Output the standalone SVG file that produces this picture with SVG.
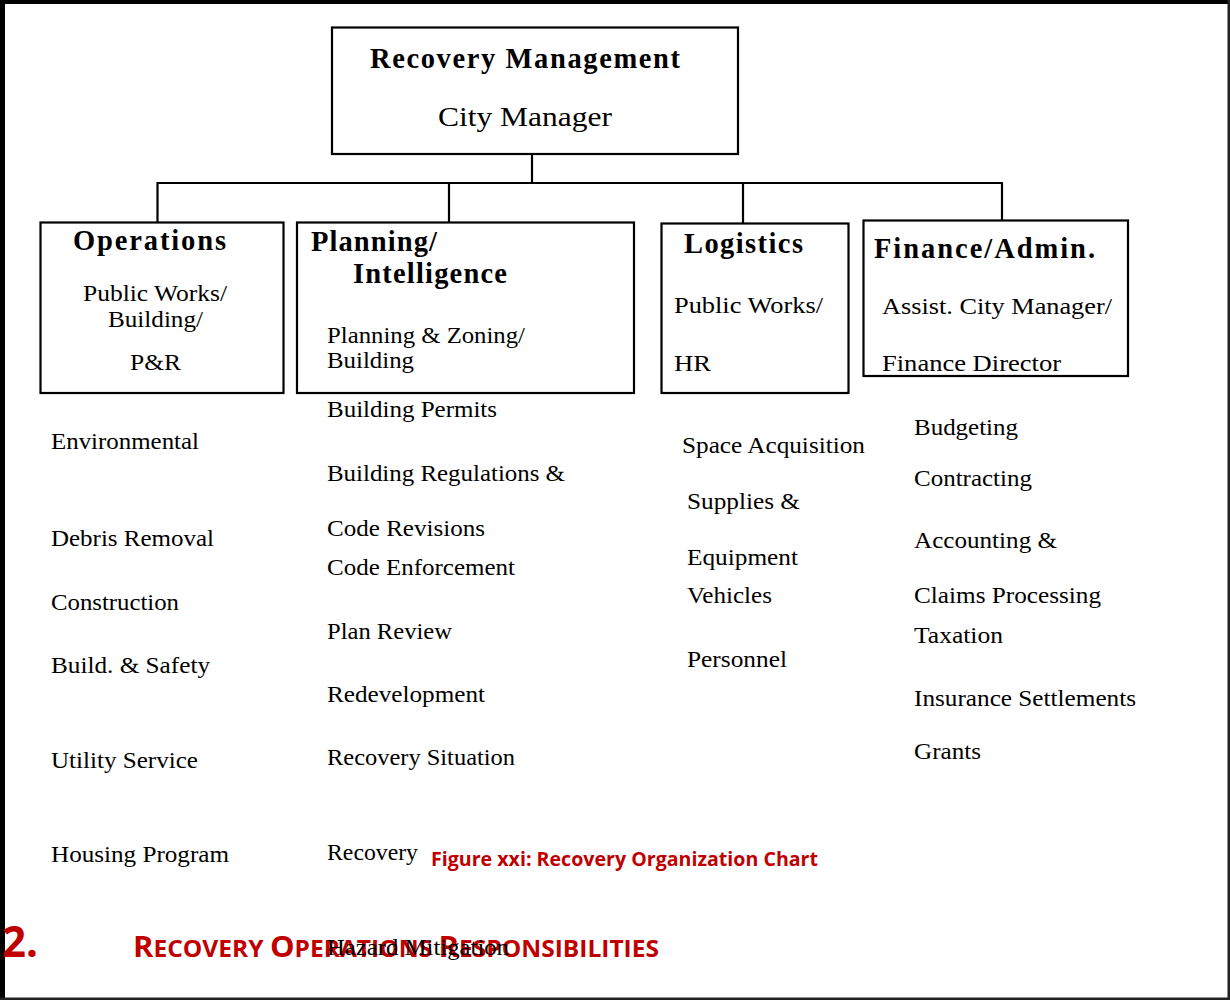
<svg xmlns="http://www.w3.org/2000/svg" width="1230" height="1000" viewBox="0 0 1230 1000">
<style>
.box{fill:#fff;stroke:#000;stroke-width:2.2}
.ln{stroke:#000;stroke-width:2.2;fill:none}
.t{font-family:"Liberation Serif","Times New Roman",serif;fill:#000}
.b{font-weight:bold;font-size:28.5px}
.s{font-size:24px}
.m{font-size:28px}
.red{font-family:"Open Sans","Liberation Sans",Arial,sans-serif;font-weight:bold;fill:#c00000}
</style>
<rect x="0" y="0" width="1230" height="1000" fill="#fff"/>
<g id="frame">
<rect x="0" y="0" width="1230" height="4" fill="#000"/>
<rect x="0" y="0" width="5" height="1000" fill="#000"/>
<rect x="1227.5" y="0" width="2.5" height="1000" fill="#222"/>
<rect x="0" y="997.5" width="1230" height="2.5" fill="#222"/>
</g>
<g id="connectors">
<line class="ln" x1="532" y1="154" x2="532" y2="183"/>
<polyline class="ln" points="157.5,222 157.5,183 1002,183 1002,220"/>
<line class="ln" x1="449" y1="183" x2="449" y2="222"/>
<line class="ln" x1="743" y1="183" x2="743" y2="223"/>
</g>
<g id="recovery-management">
<rect class="box" x="332" y="27.5" width="406" height="126.5"/>
<text class="t b" x="370" y="68" textLength="310" lengthAdjust="spacing">Recovery Management</text>
<text class="t m" x="438" y="126" textLength="174" lengthAdjust="spacingAndGlyphs">City Manager</text>
</g>
<g id="operations">
<rect class="box" x="40.5" y="222.5" width="243" height="170.5"/>
<text class="t b" x="73" y="250" textLength="153" lengthAdjust="spacing">Operations</text>
<text class="t s" x="83" y="301" textLength="144" lengthAdjust="spacingAndGlyphs">Public Works/</text>
<text class="t s" x="108" y="327" textLength="95" lengthAdjust="spacingAndGlyphs">Building/</text>
<text class="t s" x="130" y="370" textLength="51" lengthAdjust="spacingAndGlyphs">P&amp;R</text>
</g>
<g id="planning-intelligence">
<rect class="box" x="297" y="222.5" width="337" height="170.5"/>
<text class="t b" x="311" y="251" textLength="126" lengthAdjust="spacing">Planning/</text>
<text class="t b" x="353" y="283" textLength="154" lengthAdjust="spacing">Intelligence</text>
<text class="t s" x="327" y="343" textLength="198" lengthAdjust="spacingAndGlyphs">Planning &amp; Zoning/</text>
<text class="t s" x="327" y="368" textLength="87" lengthAdjust="spacingAndGlyphs">Building</text>
</g>
<g id="logistics">
<rect class="box" x="661.5" y="223.5" width="187" height="169.5"/>
<text class="t b" x="684" y="253" textLength="119" lengthAdjust="spacing">Logistics</text>
<text class="t s" x="674" y="313" textLength="149" lengthAdjust="spacingAndGlyphs">Public Works/</text>
<text class="t s" x="674" y="371" textLength="37" lengthAdjust="spacingAndGlyphs">HR</text>
</g>
<g id="finance-admin">
<rect class="box" x="863.5" y="220.5" width="264.5" height="155.5"/>
<text class="t b" x="874" y="258" textLength="221" lengthAdjust="spacing">Finance/Admin.</text>
<text class="t s" x="882" y="314" textLength="230" lengthAdjust="spacingAndGlyphs">Assist. City Manager/</text>
<text class="t s" x="882" y="371" textLength="179" lengthAdjust="spacingAndGlyphs">Finance Director</text>
</g>
<g id="caption">
<text class="red" x="431" y="866" font-size="20" textLength="387" lengthAdjust="spacingAndGlyphs">Figure xxi: Recovery Organization Chart</text>
<text class="red" x="2" y="957" font-size="43" textLength="36" lengthAdjust="spacingAndGlyphs">2.</text>
<text class="red" x="133" y="957" font-size="23" textLength="526" lengthAdjust="spacingAndGlyphs"><tspan font-size="29">R</tspan>ECOVERY <tspan font-size="29">O</tspan>PERATIONS <tspan font-size="29">R</tspan>ESPONSIBILITIES</text>
</g>
<g id="operations-items">
<text class="t s" x="51" y="449" textLength="148" lengthAdjust="spacingAndGlyphs">Environmental</text>
<text class="t s" x="51" y="546" textLength="163" lengthAdjust="spacingAndGlyphs">Debris Removal</text>
<text class="t s" x="51" y="610" textLength="128" lengthAdjust="spacingAndGlyphs">Construction</text>
<text class="t s" x="51" y="673" textLength="159" lengthAdjust="spacingAndGlyphs">Build. &amp; Safety</text>
<text class="t s" x="51" y="768" textLength="147" lengthAdjust="spacingAndGlyphs">Utility Service</text>
<text class="t s" x="51" y="862" textLength="178" lengthAdjust="spacingAndGlyphs">Housing Program</text>
</g>
<g id="planning-items">
<text class="t s" x="327" y="417" textLength="170" lengthAdjust="spacingAndGlyphs">Building Permits</text>
<text class="t s" x="327" y="481" textLength="238" lengthAdjust="spacingAndGlyphs">Building Regulations &amp;</text>
<text class="t s" x="327" y="536" textLength="158" lengthAdjust="spacingAndGlyphs">Code Revisions</text>
<text class="t s" x="327" y="575" textLength="188" lengthAdjust="spacingAndGlyphs">Code Enforcement</text>
<text class="t s" x="327" y="639" textLength="125" lengthAdjust="spacingAndGlyphs">Plan Review</text>
<text class="t s" x="327" y="702" textLength="158" lengthAdjust="spacingAndGlyphs">Redevelopment</text>
<text class="t s" x="327" y="765" textLength="188" lengthAdjust="spacingAndGlyphs">Recovery Situation</text>
<text class="t s" x="327" y="860" textLength="91" lengthAdjust="spacingAndGlyphs">Recovery</text>
<text class="t s" x="327" y="955" textLength="182" lengthAdjust="spacingAndGlyphs">Hazard Mitigation</text>
</g>
<g id="logistics-items">
<text class="t s" x="682" y="453" textLength="183" lengthAdjust="spacingAndGlyphs">Space Acquisition</text>
<text class="t s" x="687" y="509" textLength="113" lengthAdjust="spacingAndGlyphs">Supplies &amp;</text>
<text class="t s" x="687" y="565" textLength="111" lengthAdjust="spacingAndGlyphs">Equipment</text>
<text class="t s" x="687" y="603" textLength="85" lengthAdjust="spacingAndGlyphs">Vehicles</text>
<text class="t s" x="687" y="667" textLength="100" lengthAdjust="spacingAndGlyphs">Personnel</text>
</g>
<g id="finance-items">
<text class="t s" x="914" y="435" textLength="104" lengthAdjust="spacingAndGlyphs">Budgeting</text>
<text class="t s" x="914" y="486" textLength="118" lengthAdjust="spacingAndGlyphs">Contracting</text>
<text class="t s" x="914" y="548" textLength="143" lengthAdjust="spacingAndGlyphs">Accounting &amp;</text>
<text class="t s" x="914" y="603" textLength="187" lengthAdjust="spacingAndGlyphs">Claims Processing</text>
<text class="t s" x="914" y="643" textLength="89" lengthAdjust="spacingAndGlyphs">Taxation</text>
<text class="t s" x="914" y="706" textLength="222" lengthAdjust="spacingAndGlyphs">Insurance Settlements</text>
<text class="t s" x="914" y="759" textLength="67" lengthAdjust="spacingAndGlyphs">Grants</text>
</g>
</svg>
